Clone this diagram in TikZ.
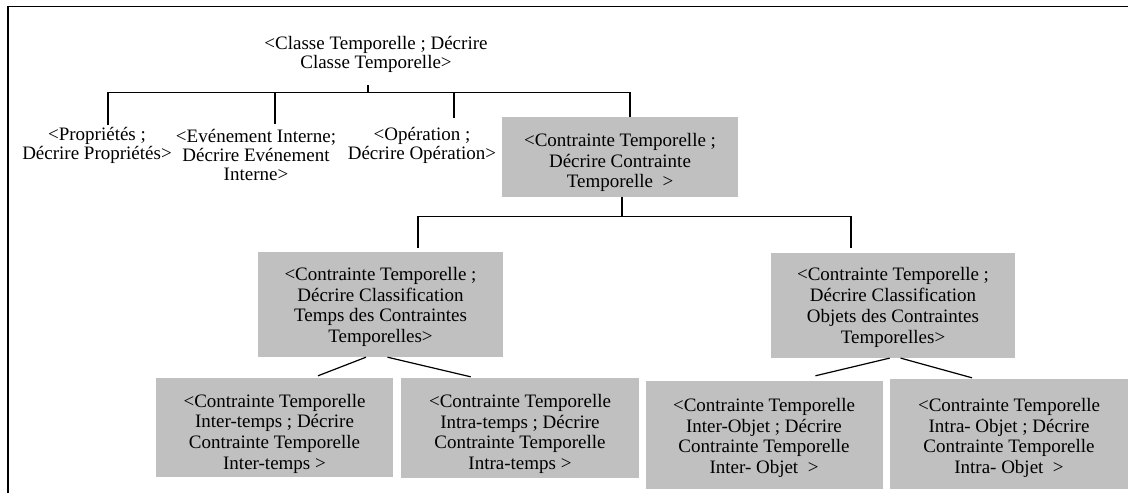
\documentclass[tikz,border=0pt]{standalone}
\usepackage{fontspec}
\setmainfont{Liberation Serif}
\definecolor{boxgray}{RGB}{192,192,192}
\begin{document}
\begin{tikzpicture}[x=1pt,y=1pt,
 conn/.style={line width=1.2pt},
 frame/.style={line width=1.8pt},
 ptxt/.style={inner sep=0pt, align=center, font=\fontsize{19}{19}\selectfont},
 btxt/.style={inner sep=0pt, align=center, font=\fontsize{19}{20.7}\selectfont},
 gbox/.style 2 args={fill=boxgray, inner sep=0pt, minimum width=#1, minimum height=#2},
]
\useasboundingbox (0,0) rectangle (1128,-493);
\draw[frame] (8,-493) -- (8,-6.5) -- (1128,-6.5);

% top level
\node[ptxt] (top) at (376,-54) {<Classe Temporelle ; Décrire\\Classe Temporelle>};
\node[ptxt] (prop) at (97,-145.5) {<Propriétés ;\\Décrire Propriétés>};
\node[ptxt] (evt) at (256,-155.4) {<Evénement Interne;\\Décrire Evénement\\Interne>};
\node[ptxt] (op) at (422,-145.5) {<Opération ;\\Décrire Opération>};
\node[gbox={236}{80}, label={[btxt,yshift=-5.5]center:{<Contrainte Temporelle ;\\Décrire Contrainte\\Temporelle~~>}}] (c0) at (620,-157) {};

% second level
\node[gbox={245}{105}, label={[btxt,yshift=-2.5]center:{<Contrainte Temporelle ;\\Décrire Classification\\Temps des Contraintes\\Temporelles>}}] (c1) at (380.5,-304.5) {};
\node[gbox={244}{105}, label={[btxt,yshift=-2]center:{<Contrainte Temporelle ;\\Décrire Classification\\Objets des Contraintes\\Temporelles>}}] (c2) at (893,-305.4) {};

% third level
\node[gbox={237}{99}, label={[btxt,yshift=-6]center:{<Contrainte Temporelle\\Inter-temps ; Décrire\\Contrainte Temporelle\\Inter-temps >}}] (d1) at (274.5,-427.5) {};
\node[gbox={238}{100}, label={[btxt,yshift=-6]center:{<Contrainte Temporelle\\Intra-temps ; Décrire\\Contrainte Temporelle\\Intra-temps >}}] (d2) at (520,-428) {};
\node[gbox={237}{108}, label={[btxt,yshift=-3]center:{<Contrainte Temporelle\\Inter-Objet ; Décrire\\Contrainte Temporelle\\Inter- Objet~~>}}] (d3) at (764,-435) {};
\node[gbox={238}{110}, label={[btxt,yshift=-4]center:{<Contrainte Temporelle\\Intra- Objet ; Décrire\\Contrainte Temporelle\\Intra- Objet~~>}}] (d4) at (1009,-434) {};

% connectors, top level
\coordinate (busA) at (368,-92.7);
\draw[conn] (busA) -- ([yshift=-12.8]top.south -| busA);
\coordinate (pA) at ([xshift=11,yshift=1.8]prop.north);
\coordinate (pB) at ([xshift=19,yshift=5.2]evt.north);
\coordinate (pC) at ([xshift=32,yshift=9.2]op.north);
\draw[conn] (pA) -- (pA |- busA) -| ([xshift=10]c0.north);
\draw[conn] (pB) -- (pB |- busA);
\draw[conn] (pC) -- (pC |- busA);

% connectors, second level
\coordinate (busB) at (622,-216.7);
\draw[conn] ([xshift=2]c0.south) -- (busB);
\coordinate (qA) at ([xshift=37.5,yshift=4]c1.north);
\coordinate (qB) at ([xshift=-42,yshift=4.7]c2.north);
\draw[conn] (qA) -- (qA |- busB) -- (qB |- busB) -- (qB);

% connectors, third level
\draw[conn] ([xshift=-14.5]c1.south) -- ([xshift=43.5,yshift=2]d1.north);
\draw[conn] ([xshift=7]c1.south) -- ([xshift=-49.3,yshift=1]d2.north);
\draw[conn] ([xshift=-3.3]c2.south) -- ([xshift=51.4,yshift=5]d3.north);
\draw[conn] ([xshift=7.6]c2.south) -- ([xshift=-37,yshift=1]d4.north);
\end{tikzpicture}
\end{document}
